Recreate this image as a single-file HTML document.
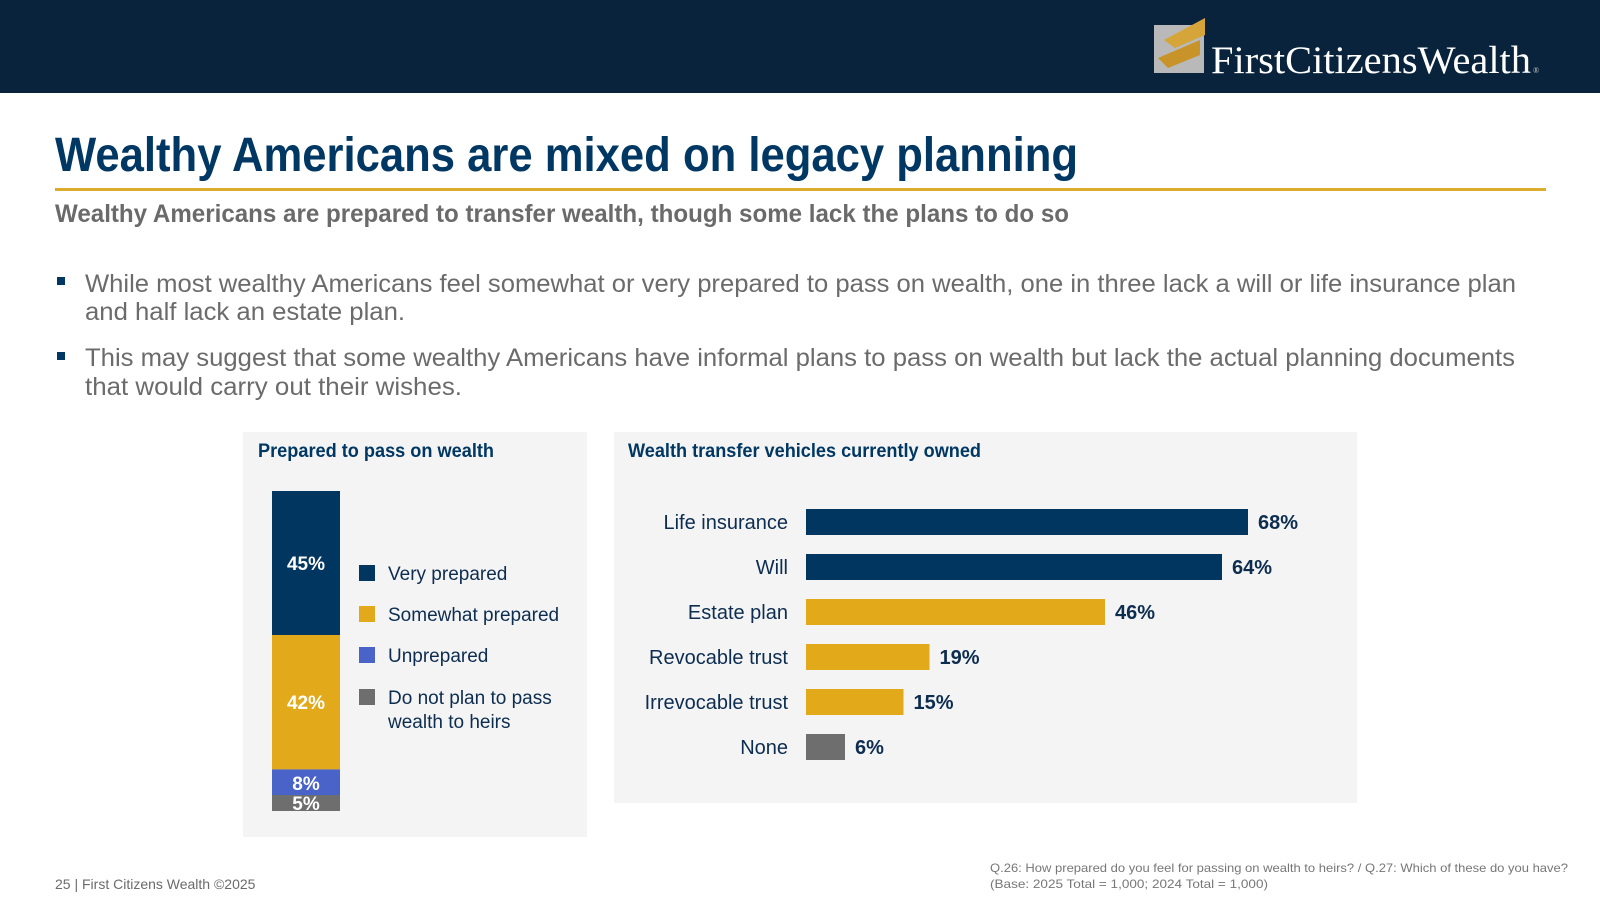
<!DOCTYPE html>
<html><head><meta charset="utf-8"><style>
html,body{margin:0;padding:0;background:#fff;}
svg{display:block;font-family:"Liberation Sans Narrow","Liberation Sans",sans-serif;}
</style></head><body>
<svg id="page" width="1600" height="900" viewBox="0 0 1600 900" xmlns="http://www.w3.org/2000/svg">
<rect x="0" y="0" width="1600" height="93" fill="#08233b"/>
<g>
<rect x="1154" y="25" width="50" height="48" fill="#b9b9b9"/>
<polygon points="1164,40 1205,18 1205,35 1175,48" fill="#d6a53a"/>
<polygon points="1158,58 1200,40 1200,55 1168,68" fill="#c8942a"/>
<text x="1211" y="73" font-family="Liberation Serif,serif" font-size="39" fill="#fff" textLength="320" lengthAdjust="spacingAndGlyphs">FirstCitizensWealth</text>
<text x="1533" y="73" font-family="Liberation Serif,serif" font-size="8" fill="#ccc">®</text>
</g>
<text x="55" y="171" font-size="48" font-weight="bold" fill="#003763" textLength="1023" lengthAdjust="spacingAndGlyphs">Wealthy Americans are mixed on legacy planning</text>
<rect x="55" y="188" width="1491" height="3" fill="#dcad2c"/>
<text x="55" y="222" font-size="25" font-weight="bold" fill="#6a6a6a" textLength="1014" lengthAdjust="spacingAndGlyphs">Wealthy Americans are prepared to transfer wealth, though some lack the plans to do so</text>
<g fill="#6b6b6b" font-size="25">
<rect x="57" y="277" width="8" height="8" fill="#003763"/>
<text x="85" y="292" textLength="1431" lengthAdjust="spacingAndGlyphs">While most wealthy Americans feel somewhat or very prepared to pass on wealth, one in three lack a will or life insurance plan</text>
<text x="85" y="320" textLength="320" lengthAdjust="spacingAndGlyphs">and half lack an estate plan.</text>
<rect x="57" y="352" width="8" height="8" fill="#003763"/>
<text x="85" y="366" textLength="1430" lengthAdjust="spacingAndGlyphs">This may suggest that some wealthy Americans have informal plans to pass on wealth but lack the actual planning documents</text>
<text x="85" y="395" textLength="377" lengthAdjust="spacingAndGlyphs">that would carry out their wishes.</text>
</g>
<rect x="243" y="432" width="344" height="405" fill="#f4f4f4"/>
<text x="258" y="457" font-size="19" font-weight="bold" fill="#003763" textLength="236" lengthAdjust="spacingAndGlyphs">Prepared to pass on wealth</text>
<g id="stack"></g>
<g id="legend"></g>
<rect x="614" y="432" width="743" height="371" fill="#f4f4f4"/>
<text x="628" y="457" font-size="19" font-weight="bold" fill="#003763" textLength="353" lengthAdjust="spacingAndGlyphs">Wealth transfer vehicles currently owned</text>
<g id="hbars"></g>
<text x="55" y="889" font-size="14" fill="#6b6b6b">25  |  First Citizens Wealth ©2025</text>
<g font-size="12" fill="#777">
<text x="990" y="872" textLength="578" lengthAdjust="spacingAndGlyphs">Q.26:  How prepared do you feel for passing on wealth to heirs? /  Q.27:  Which of these do you have?</text>
<text x="990" y="888" textLength="278" lengthAdjust="spacingAndGlyphs">(Base: 2025 Total = 1,000; 2024 Total = 1,000)</text>
</g>
</svg>
<script>
const stackCategories = ["Very prepared","Somewhat prepared","Unprepared","Do not plan to pass heirs"];
const stackValues = [45,42,8,5];
const stackColors = ["#003660","#e2a91a","#4a63c8","#6e6e6e"];
const legendLines = [["Very prepared"],["Somewhat prepared"],["Unprepared"],["Do not plan to pass","wealth to heirs"]];
const barCategories = ["Life insurance","Will","Estate plan","Revocable trust","Irrevocable trust","None"];
const barValues = [68,64,46,19,15,6];
const barColors = ["#003660","#003660","#e2a91a","#e2a91a","#e2a91a","#6e6e6e"];

const NS = "http://www.w3.org/2000/svg";
function mk(tag, attrs, parent){const e=document.createElementNS(NS,tag);for(const k in attrs)e.setAttribute(k,attrs[k]);parent.appendChild(e);return e;}

const stack = document.getElementById('stack');
const sTop = 491, sH = 320, sX = 272, sW = 68;
const total = stackValues.reduce((a,b)=>a+b,0);
const sy = v => sTop + v / total * sH;
let cum = 0;
stackValues.forEach((v,i)=>{
  const y0 = sy(cum), y1 = sy(cum+v);
  const r = mk('rect',{x:sX,y:y0,width:sW,height:y1-y0,fill:stackColors[i]},stack);
  
  
  const ty = i < 2 ? (y0+y1)/2 + 7 : (i===2 ? y1 - 5 : y1 - 1);
  const t = mk('text',{x:sX+sW/2,y:ty,'text-anchor':'middle','font-size':19,'font-weight':'bold',fill:'#fff'},stack);
  t.textContent = v + '%';
  
  
  cum += v;
});

const legend = document.getElementById('legend');
const legY = [573,614,655,697];
legendLines.forEach((lines,i)=>{
  const sq = mk('rect',{x:359,y:legY[i]-8,width:16,height:16,fill:stackColors[i]},legend);
  
  
  lines.forEach((ln,j)=>{
    const t = mk('text',{x:388,y:legY[i]+7+j*24,'font-size':19,fill:'#0d2d50'},legend);
    t.textContent = ln;
    
    
  });
});

const hb = document.getElementById('hbars');
const x0 = 806, pxPer = 6.5;
const xs = v => x0 + v * pxPer;
const yCenter = i => 522 + i * 45;
const bh = 26;
barCategories.forEach((c,i)=>{
  const yc = yCenter(i);
  const r = mk('rect',{x:x0,y:yc-bh/2,width:xs(barValues[i])-x0,height:bh,fill:barColors[i]},hb);
  
  
  const l = mk('text',{x:788,y:yc+7,'text-anchor':'end','font-size':20,fill:'#0d2d50'},hb);
  l.textContent = c;
  
  
  const v = mk('text',{x:xs(barValues[i])+10,y:yc+7,'font-size':20,'font-weight':'bold',fill:'#0d2d50'},hb);
  v.textContent = barValues[i] + '%';
  
  
});
</script>
</body></html>
